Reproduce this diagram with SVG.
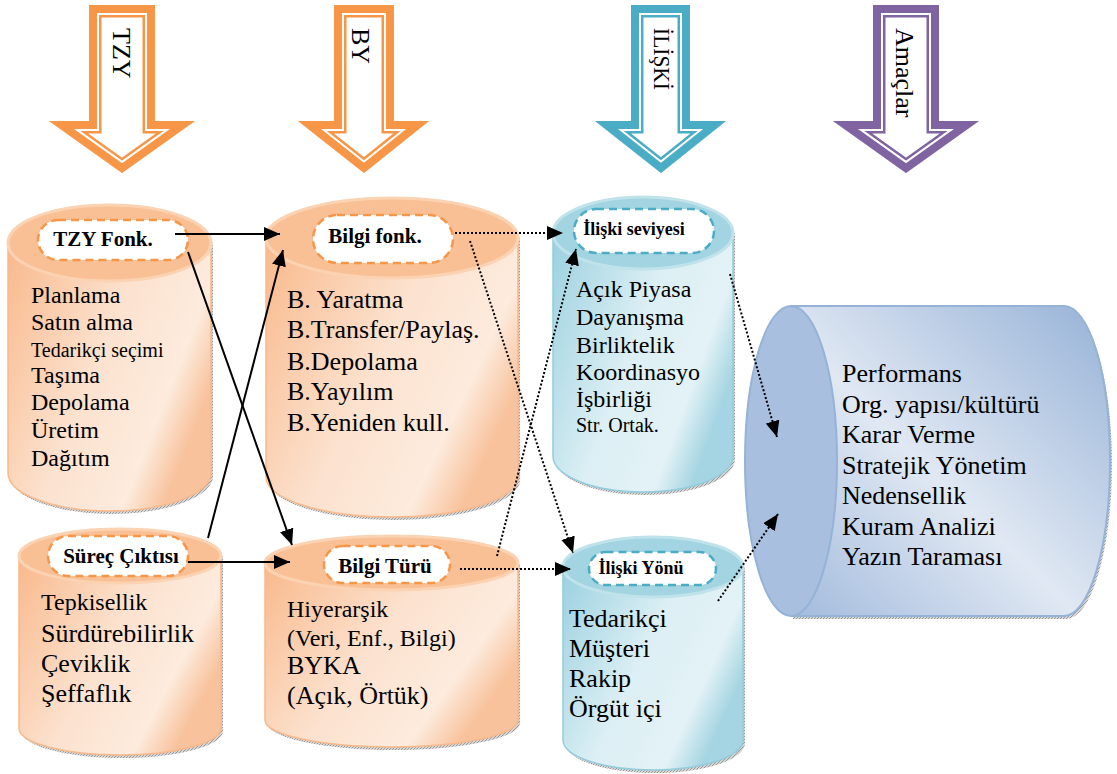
<svg xmlns="http://www.w3.org/2000/svg" xmlns:xlink="http://www.w3.org/1999/xlink" width="1117" height="774" viewBox="0 0 1117 774">
  <style>
    text { font-family: "Liberation Serif", "Times New Roman", serif; fill: #000; }
    .lbl { font-weight: bold; text-anchor: middle; }
    .s18 { font-size: 18px; }
    .s20 { font-size: 20px; }
    .s21 { font-size: 21px; }
    .s24 { font-size: 24px; }
    .s26 { font-size: 26px; }
    .pillO { fill: #fff; stroke: #F79646; stroke-width: 2.5; stroke-dasharray: 8 5; }
    .pillB { fill: #fff; stroke: #4BACC6; stroke-width: 2.5; stroke-dasharray: 8 5; }
    .bodyO { fill: url(#gOrange); stroke: #F9B98A; stroke-width: 1.5; }
    .topO { fill: #F9C095; stroke: #FBD2B2; stroke-width: 3; }
    .bodyB { fill: url(#gBlue); stroke: #93CDDD; stroke-width: 1.5; }
    .topB { fill: #A2D4E1; stroke: #BFE2EB; stroke-width: 3; }
    .edge { fill: url(#hatch); }
    .solid { stroke: #000; stroke-width: 2; fill: none; marker-end: url(#ah); }
    .dot { stroke: #000; stroke-width: 2; fill: none; stroke-dasharray: 2 2; marker-end: url(#ah); }
    .bigArrow { stroke-linejoin: miter; stroke-miterlimit: 10; fill: none; }
  </style>
  <defs>
    <linearGradient id="gOrange" x1="0" y1="0" x2="1" y2="0.6">
      <stop offset="0" stop-color="#F8B484"/>
      <stop offset="0.55" stop-color="#FCE2CF"/>
      <stop offset="0.85" stop-color="#FDEBDD"/>
      <stop offset="1" stop-color="#F8C29C"/>
    </linearGradient>
    <linearGradient id="gBlue" x1="0" y1="0" x2="1" y2="0.6">
      <stop offset="0" stop-color="#93CDDD"/>
      <stop offset="0.55" stop-color="#DCEFF4"/>
      <stop offset="0.85" stop-color="#E3F2F6"/>
      <stop offset="1" stop-color="#A5D5E2"/>
    </linearGradient>
    <linearGradient id="gPurple" x1="0" y1="1" x2="1" y2="0">
      <stop offset="0" stop-color="#A3BBDD"/>
      <stop offset="0.45" stop-color="#E0E8F3"/>
      <stop offset="1" stop-color="#96B2D7"/>
    </linearGradient>
    <pattern id="hatch" width="3" height="3" patternUnits="userSpaceOnUse">
      <rect width="3" height="3" fill="#D6D6D6"/>
      <path d="M0,3 L3,0" stroke="#8A8A8A" stroke-width="0.8"/>
    </pattern>
    <marker id="ah" markerUnits="userSpaceOnUse" markerWidth="16" markerHeight="14" refX="16" refY="7" orient="auto">
      <path d="M0,0 L16,7 L0,14 Z" fill="#000"/>
    </marker>

    <!-- block arrow outlines -->
    <polygon id="aTZY" points="89,5 155,5 155,121 195,121 122,173 49,121 89,121"/>
    <polygon id="aBY" points="334,5 394,5 394,121 429,121 364,173 298,121 334,121"/>
    <polygon id="aILS" points="631,5 690,5 690,121 726,121 661,173 595,121 631,121"/>
    <polygon id="aAMC" points="873,5 939,5 939,121 979,121 906,173 833,121 873,121"/>
    <clipPath id="cTZY"><use xlink:href="#aTZY"/></clipPath>
    <clipPath id="cBY"><use xlink:href="#aBY"/></clipPath>
    <clipPath id="cILS"><use xlink:href="#aILS"/></clipPath>
    <clipPath id="cAMC"><use xlink:href="#aAMC"/></clipPath>

    <!-- cylinder bodies -->
    <path id="b1" d="M8,243 L8,473 A101.5 38 0 0 0 211,473 L211,243 A101.5 38 0 0 0 8,243 Z"/>
    <path id="b2" d="M266,238 L266,477 A126 40 0 0 0 518,477 L518,238 A126 40 0 0 0 266,238 Z"/>
    <path id="b3" d="M553,233 L553,456 A90 36 0 0 0 733,456 L733,233 A90 36 0 0 0 553,233 Z"/>
    <path id="b4" d="M19,556 L19,728 A101 27 0 0 0 221,728 L221,556 A101 27 0 0 0 19,556 Z"/>
    <path id="b5" d="M265,563 L265,720 A126.5 27 0 0 0 518,720 L518,563 A126.5 27 0 0 0 265,563 Z"/>
    <path id="b6" d="M563,567 L563,740 A90 30 0 0 0 743,740 L743,567 A90 30 0 0 0 563,567 Z"/>
    <path id="b7" d="M791,306 L1064,306 A46 155 0 0 1 1064,616 L791,616 Z"/>
  </defs>

  <rect width="1117" height="774" fill="#fff"/>

  <!-- header block arrows -->
  <g id="arrow-tzy" class="bigArrow">
    <use xlink:href="#aTZY" fill="#fff"/>
    <g clip-path="url(#cTZY)">
      <use xlink:href="#aTZY" stroke="#F79646" stroke-width="25"/>
      <use xlink:href="#aTZY" stroke="#fff" stroke-width="20"/>
      <use xlink:href="#aTZY" stroke="#F79646" stroke-width="16"/>
    </g>
    <text class="s26" transform="translate(113,28) rotate(90)">TZY</text>
  </g>
  <g id="arrow-by" class="bigArrow">
    <use xlink:href="#aBY" fill="#fff"/>
    <g clip-path="url(#cBY)">
      <use xlink:href="#aBY" stroke="#F79646" stroke-width="25"/>
      <use xlink:href="#aBY" stroke="#fff" stroke-width="20"/>
      <use xlink:href="#aBY" stroke="#F79646" stroke-width="16"/>
    </g>
    <text class="s26" transform="translate(352,28) rotate(90)">BY</text>
  </g>
  <g id="arrow-iliski" class="bigArrow">
    <use xlink:href="#aILS" fill="#fff"/>
    <g clip-path="url(#cILS)">
      <use xlink:href="#aILS" stroke="#4BACC6" stroke-width="25"/>
      <use xlink:href="#aILS" stroke="#fff" stroke-width="20"/>
      <use xlink:href="#aILS" stroke="#4BACC6" stroke-width="16"/>
    </g>
    <text class="s24" transform="translate(654,28) rotate(90)" textLength="62" lengthAdjust="spacingAndGlyphs">İLİŞKİ</text>
  </g>
  <g id="arrow-amaclar" class="bigArrow">
    <use xlink:href="#aAMC" fill="#fff"/>
    <g clip-path="url(#cAMC)">
      <use xlink:href="#aAMC" stroke="#8064A2" stroke-width="25"/>
      <use xlink:href="#aAMC" stroke="#fff" stroke-width="20"/>
      <use xlink:href="#aAMC" stroke="#8064A2" stroke-width="16"/>
    </g>
    <text class="s26" transform="translate(896,28) rotate(90)">Amaçlar</text>
  </g>

  <!-- cylinder: TZY functions -->
  <g id="node-tzy-fonk">
    <use xlink:href="#b1" class="edge" transform="translate(2,3)"/>
    <use xlink:href="#b1" class="bodyO"/>
    <ellipse class="topO" cx="109.5" cy="243" rx="101.5" ry="38"/>
    <rect class="pillO" x="38" y="220" width="150" height="40" rx="20"/>
    <text class="lbl s21" x="103" y="246">TZY Fonk.</text>
    <text class="s24" x="31" y="303">Planlama</text>
    <text class="s24" x="31" y="330">Satın alma</text>
    <text class="s20" x="31" y="357">Tedarikçi seçimi</text>
    <text class="s24" x="31" y="383">Taşıma</text>
    <text class="s24" x="31" y="410">Depolama</text>
    <text class="s24" x="31" y="438">Üretim</text>
    <text class="s24" x="31" y="466">Dağıtım</text>
  </g>

  <!-- cylinder: knowledge functions -->
  <g id="node-bilgi-fonk">
    <use xlink:href="#b2" class="edge" transform="translate(2,3)"/>
    <use xlink:href="#b2" class="bodyO"/>
    <ellipse class="topO" cx="392" cy="238" rx="126" ry="40"/>
    <rect class="pillO" x="313" y="215" width="140" height="48" rx="24"/>
    <text class="lbl s21" x="375" y="243">Bilgi fonk.</text>
    <text class="s26" x="287" y="308">B. Yaratma</text>
    <text class="s26" x="287" y="338">B.Transfer/Paylaş.</text>
    <text class="s26" x="287" y="370">B.Depolama</text>
    <text class="s26" x="287" y="400">B.Yayılım</text>
    <text class="s26" x="287" y="431">B.Yeniden kull.</text>
  </g>

  <!-- cylinder: relationship level -->
  <g id="node-iliski-seviyesi">
    <use xlink:href="#b3" class="edge" transform="translate(2,3)"/>
    <use xlink:href="#b3" class="bodyB"/>
    <ellipse class="topB" cx="643" cy="233" rx="90" ry="36"/>
    <rect class="pillB" x="574" y="209" width="140" height="44" rx="22"/>
    <text class="lbl s18" x="634" y="235">İlişki seviyesi</text>
    <text class="s24" x="576" y="297">Açık Piyasa</text>
    <text class="s24" x="576" y="325">Dayanışma</text>
    <text class="s24" x="576" y="353">Birliktelik</text>
    <text class="s24" x="576" y="380">Koordinasyo</text>
    <text class="s24" x="576" y="407">İşbirliği</text>
    <text class="s20" x="576" y="432">Str. Ortak.</text>
  </g>

  <!-- cylinder: process output -->
  <g id="node-surec-ciktisi">
    <use xlink:href="#b4" class="edge" transform="translate(2,3)"/>
    <use xlink:href="#b4" class="bodyO"/>
    <ellipse class="topO" cx="120" cy="556" rx="101" ry="27"/>
    <rect class="pillO" x="48" y="536" width="140" height="40" rx="20"/>
    <text class="lbl s21" x="121" y="563">Süreç Çıktısı</text>
    <text class="s24" x="41" y="610">Tepkisellik</text>
    <text class="s26" x="41" y="642">Sürdürebilirlik</text>
    <text class="s26" x="41" y="672">Çeviklik</text>
    <text class="s26" x="41" y="702">Şeffaflık</text>
  </g>

  <!-- cylinder: knowledge type -->
  <g id="node-bilgi-turu">
    <use xlink:href="#b5" class="edge" transform="translate(2,3)"/>
    <use xlink:href="#b5" class="bodyO"/>
    <ellipse class="topO" cx="391.5" cy="563" rx="126.5" ry="27"/>
    <rect class="pillO" x="324" y="546" width="126" height="37" rx="18.5"/>
    <text class="lbl s21" x="385" y="573">Bilgi Türü</text>
    <text class="s24" x="287" y="617">Hiyerarşik</text>
    <text class="s24" x="287" y="646">(Veri, Enf., Bilgi)</text>
    <text class="s26" x="287" y="674">BYKA</text>
    <text class="s26" x="287" y="704">(Açık, Örtük)</text>
  </g>

  <!-- cylinder: relationship direction -->
  <g id="node-iliski-yonu">
    <use xlink:href="#b6" class="edge" transform="translate(2,3)"/>
    <use xlink:href="#b6" class="bodyB"/>
    <ellipse class="topB" cx="653" cy="567" rx="90" ry="30"/>
    <rect class="pillB" x="589" y="552" width="127" height="33" rx="16.5"/>
    <text class="lbl s18" x="641" y="574">İlişki Yönü</text>
    <text class="s26" x="569" y="627">Tedarikçi</text>
    <text class="s26" x="569" y="657">Müşteri</text>
    <text class="s26" x="569" y="687">Rakip</text>
    <text class="s26" x="569" y="717">Örgüt içi</text>
  </g>

  <!-- horizontal cylinder: goals -->
  <g id="node-amaclar">
    <use xlink:href="#b7" class="edge" transform="translate(2,3)"/>
    <use xlink:href="#b7" fill="url(#gPurple)" stroke="#95B3D7" stroke-width="2"/>
    <ellipse cx="791" cy="461" rx="46" ry="155" fill="#A8BFDF" stroke="#95B3D7" stroke-width="2"/>
    <text class="s26" x="842" y="382">Performans</text>
    <text class="s26" x="842" y="413">Org. yapısı/kültürü</text>
    <text class="s26" x="842" y="443">Karar Verme</text>
    <text class="s26" x="842" y="474">Stratejik Yönetim</text>
    <text class="s26" x="842" y="504">Nedensellik</text>
    <text class="s26" x="842" y="535">Kuram Analizi</text>
    <text class="s26" x="842" y="565">Yazın Taraması</text>
  </g>

  <!-- connectors -->
  <g id="connectors">
    <path class="solid" d="M175,234 L280,234"/>
    <path class="solid" d="M188,252 L292,545"/>
    <path class="solid" d="M208,538 L283,250"/>
    <path class="solid" d="M188,562 L290,562"/>
    <path class="dot" d="M455,233 L563,233"/>
    <path class="dot" d="M470,241 L573,553"/>
    <path class="dot" d="M497,556 L576,249"/>
    <path class="dot" d="M460,569 L571,569"/>
    <path class="dot" d="M730,274 L777,437"/>
    <path class="dot" d="M718,601 L778,514"/>
  </g>
</svg>
